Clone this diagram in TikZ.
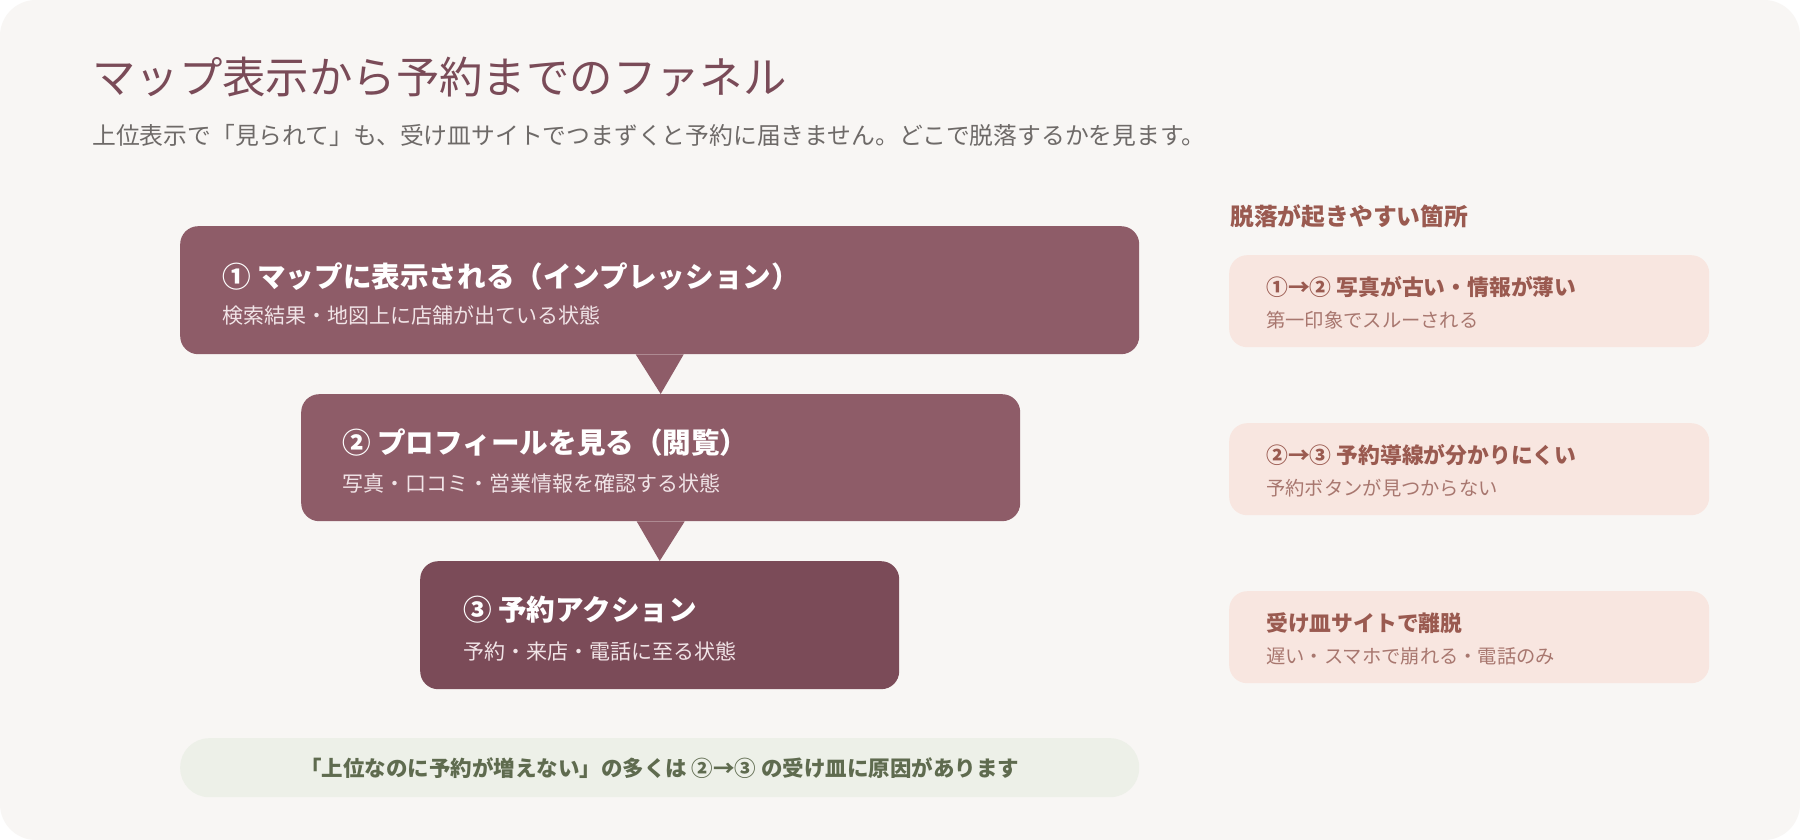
\documentclass[tikz,border=0pt]{standalone}
\usepackage{fontspec}
\setmainfont{Noto Sans CJK JP}
\usetikzlibrary{calc}
\definecolor{pagebg}{HTML}{FFFFFF}
\definecolor{cardbg}{HTML}{F8F6F4}
\definecolor{titlecol}{HTML}{7A4B58}
\definecolor{subcol}{HTML}{6E6A68}
\definecolor{stageA}{HTML}{8E5C68}
\definecolor{stageB}{HTML}{7B4B58}
\definecolor{stagesub}{HTML}{F1E4E7}
\definecolor{dropfill}{HTML}{F8E6E0}
\definecolor{droptitle}{HTML}{9A5A50}
\definecolor{dropsub}{HTML}{A8776F}
\definecolor{notefill}{HTML}{EDF0E8}
\definecolor{notetext}{HTML}{5F6B4F}
\tikzset{
  stagebox/.style={rounded corners=18pt, inner sep=0pt, anchor=north west},
  stagetitle/.style={anchor=west, inner sep=0pt, text=white, font=\fontsize{28.6}{32}\selectfont\bfseries},
  stagesubt/.style={anchor=west, inner sep=0pt, text=stagesub, font=\fontsize{21}{24}\selectfont},
  dropbox/.style={rounded corners=18pt, inner sep=0pt, anchor=north west, fill=dropfill, minimum width=480pt, minimum height=92pt},
  droptitlet/.style={anchor=west, inner sep=0pt, text=droptitle, font=\fontsize{21.8}{24}\selectfont\bfseries},
  dropsubt/.style={anchor=west, inner sep=0pt, text=dropsub, font=\fontsize{19.3}{22}\selectfont},
}
\begin{document}
\begin{tikzpicture}[x=1pt,y=-1pt]
\useasboundingbox (0,0) rectangle (1800,840);
\fill[pagebg] (0,0) rectangle (1800,840);
\fill[cardbg, rounded corners=36pt] (0,0) rectangle (1800,840);

% header
\node[anchor=west, inner sep=0pt, text=titlecol, font=\fontsize{43.4}{48}\selectfont] (title) at (92,77) {マップ表示から予約までのファネル};
\node[anchor=west, inner sep=0pt, text=subcol, font=\fontsize{23.8}{27}\selectfont] (subtitle) at (92,135) {上位表示で「見られて」も、受け皿サイトでつまずくと予約に届きません。どこで脱落するかを見ます。};

% funnel stages
\node[stagebox, fill=stageA, minimum width=959pt, minimum height=128pt] (b1) at (180,226) {};
\node[stagebox, fill=stageA, minimum width=719pt, minimum height=127pt] (b2) at (301,394) {};
\node[stagebox, fill=stageB, minimum width=479pt, minimum height=128pt] (b3) at (420,561) {};

% connectors (triangles)
\fill[stageA] ($(b1.south)+(-24,0)$) -- ($(b1.south)+(24,0)$) -- (b2.north) -- cycle;
\fill[stageA] ($(b2.south)+(-24,0)$) -- ($(b2.south)+(24,0)$) -- (b3.north) -- cycle;

\node[stagetitle] (b1t) at (222,277) {① マップに表示される（インプレッション）};
\node[stagesubt] (b1s) at (222,316) {検索結果・地図上に店舗が出ている状態};
\node[stagetitle] (b2t) at (342,443) {② プロフィールを見る（閲覧）};
\node[stagesubt] (b2s) at (342,483) {写真・口コミ・営業情報を確認する状態};
\node[stagetitle] (b3t) at (463,610) {③ 予約アクション};
\node[stagesubt] (b3s) at (463,651) {予約・来店・電話に至る状態};

% bottom note
\node[fill=notefill, rounded corners=29pt, minimum width=959pt, minimum height=59pt, inner sep=0pt, anchor=north west] (note) at (180,738) {};
\node[inner sep=0pt, text=notetext, font=\fontsize{21.5}{24}\selectfont\bfseries] (notet) at (note.center) {「上位なのに予約が増えない」の多くは ②→③ の受け皿に原因があります};

% drop-off panel
\node[anchor=west, inner sep=0pt, text=droptitle, font=\fontsize{23.8}{27}\selectfont\bfseries] (droph) at (1230,216) {脱落が起きやすい箇所};
\node[dropbox] (d1) at (1229,255) {};
\node[droptitlet] (d1t) at (1266,287) {①→② 写真が古い・情報が薄い};
\node[dropsubt] (d1s) at (1266,320) {第一印象でスルーされる};
\node[dropbox] (d2) at (1229,423) {};
\node[droptitlet] (d2t) at (1266,455) {②→③ 予約導線が分かりにくい};
\node[dropsubt] (d2s) at (1266,488) {予約ボタンが見つからない};
\node[dropbox] (d3) at (1229,591) {};
\node[droptitlet] (d3t) at (1266,623) {受け皿サイトで離脱};
\node[dropsubt] (d3s) at (1266,656) {遅い・スマホで崩れる・電話のみ};
\end{tikzpicture}
\end{document}
